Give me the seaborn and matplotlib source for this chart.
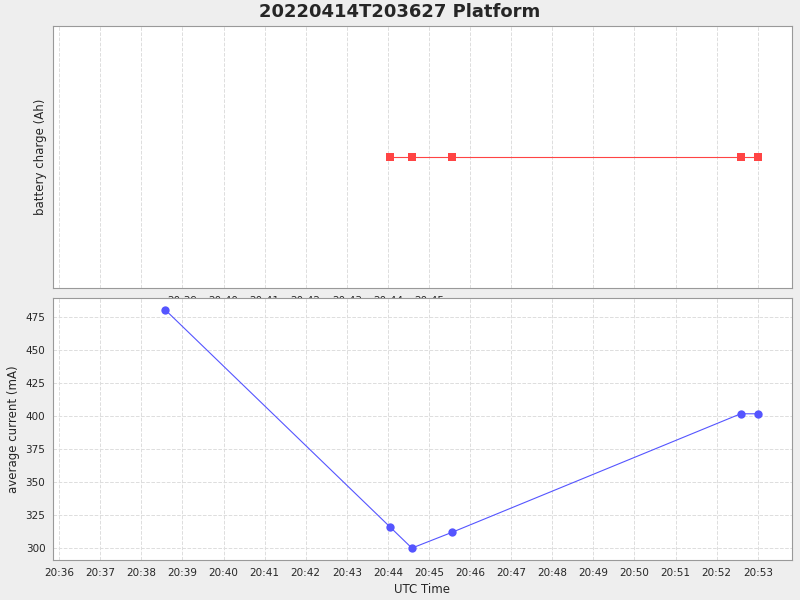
import matplotlib
matplotlib.use("Agg")
import matplotlib.pyplot as plt
import matplotlib.dates as mdates
import seaborn as sns
import pandas as pd

times_current = ["2022-04-14 20:38:35", "2022-04-14 20:44:03", "2022-04-14 20:44:35",
                 "2022-04-14 20:45:34", "2022-04-14 20:52:35", "2022-04-14 20:53:00"]
current_ma = [480, 316, 300, 312, 401.5, 401.5]
times_charge = times_current[1:]
charge_ah = [0.0, 0.0, 0.0, 0.0, 0.0]

sns.set_style("whitegrid")
plt.rcParams['font.family'] = ['DejaVu Sans']

dfc = pd.DataFrame({"t": pd.to_datetime(times_current), "v": current_ma})
dfb = pd.DataFrame({"t": pd.to_datetime(times_charge), "v": charge_ah})

fig = plt.figure(figsize=(8, 6), dpi=100, facecolor="#eeeeee")
ax1 = fig.add_axes([53/800, 1-288/600, 739/800, 262/600])
ax2 = fig.add_axes([53/800, 1-560/600, 739/800, 262/600], sharex=ax1)

sns.lineplot(data=dfb, x="t", y="v", ax=ax1, color="#ff4444", lw=0.8, marker="s",
             markersize=6, markeredgewidth=0)
sns.lineplot(data=dfc, x="t", y="v", ax=ax2, color="#5555ff", lw=0.8, marker="o",
             markersize=6, markeredgewidth=0)

for ax in (ax1, ax2):
    ax.set_facecolor("white")
    ax.grid(True, color="#dddddd", linestyle="--", linewidth=0.7)
    for s in ax.spines.values():
        s.set_color("#999999"); s.set_linewidth(0.8)
    ax.tick_params(labelsize=7.5, length=2, color="#999999")

ax1.set_ylim(-1, 1)
ax1.set_yticks([])
ax1.set_ylabel("battery charge (Ah)", fontsize=8.5)
ax1.set_xlabel("")
plt.setp(ax1.get_xticklabels(), visible=False)

ax2.set_ylim(291, 489)
ax2.set_yticks([300, 325, 350, 375, 400, 425, 450, 475])
ax2.set_ylabel("average current (mA)", fontsize=8.5)
ax2.set_xlabel("UTC Time", fontsize=8.5)
ax2.set_xlim(pd.Timestamp("2022-04-14 20:35:51"), pd.Timestamp("2022-04-14 20:53:50"))
ax2.xaxis.set_major_locator(mdates.MinuteLocator())
ax2.xaxis.set_major_formatter(mdates.DateFormatter("%H:%M"))

fig.text(0.5, 1-12/600, "20220414T203627 Platform", ha="center", va="center",
         fontsize=13, fontweight="bold")
fig.savefig("out.png", dpi=100, facecolor=fig.get_facecolor())
